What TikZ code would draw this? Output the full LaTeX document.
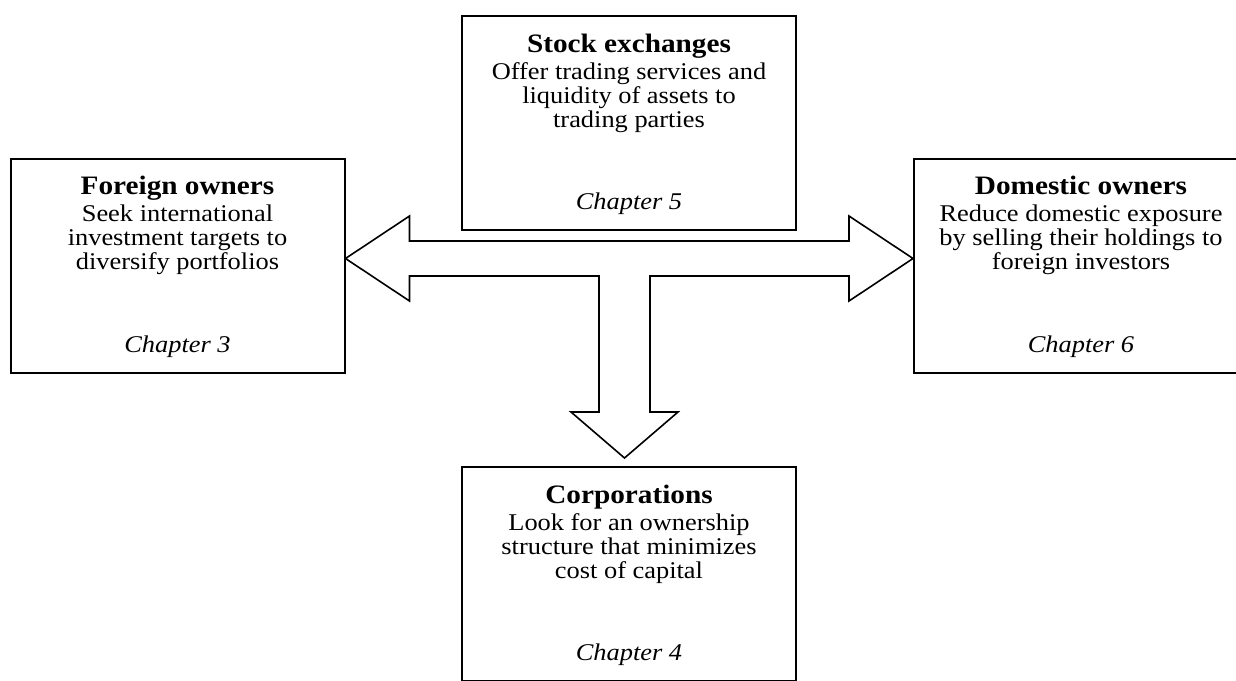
\documentclass[tikz,border=0pt]{standalone}
\usepackage{fontspec}
\setmainfont{Liberation Serif}[FakeStretch=1.1]
\usepackage{xcolor}
\definecolor{cLine}{HTML}{000000}
\usepackage{tikz}
\usetikzlibrary{positioning,calc}
\tikzset{
  node-box/.style={draw=cLine,line width=1pt,minimum width=167pt,
    minimum height=107pt,align=center,inner sep=0pt,
    font=\fontsize{12}{12}\selectfont},
  arrow-block/.style={draw=cLine,line width=0.8pt,fill=white,line join=miter},
}
\newcommand{\boxhead}[1]{{\fontsize{13.3}{12}\selectfont\bfseries\rule{0pt}{10.6pt}#1}\\[1.5pt]}
\newcommand{\chapref}[1]{\\[29.4pt]\textit{Chapter #1}}

\begin{document}
\begin{tikzpicture}[x=0.5pt,y=-0.5pt]
  \clip (0,0) rectangle (1236,680);
  \fill[white] (0,0) rectangle (1236,680);
  \node[node-box] (stock)    at (629,123)    {\boxhead{Stock exchanges}Offer trading services and\\liquidity of assets to\\trading parties\chapref{5}};
  \node[node-box] (foreign)  at (177.5,265.5) {\boxhead{Foreign owners}Seek international\\investment targets to\\diversify portfolios\chapref{3}};
  \node[node-box] (domestic) at (1081,265.5) {\boxhead{Domestic owners}Reduce domestic exposure\\by selling their holdings to\\foreign investors\chapref{6}};
  \node[node-box] (corp)     at (629,574)    {\boxhead{Corporations}Look for an ownership\\structure that minimizes\\cost of capital\chapref{4}};
  % block arrow: foreign <-> domestic, branch down to corporations
  \coordinate (hub) at (624.5,258.5);
  \coordinate (tipL) at (foreign.east |- hub);
  \coordinate (tipR) at (domestic.west |- hub);
  \coordinate (tipD) at ($(corp.north -| hub)+(0,-8)$);
  \draw[arrow-block] (tipL) -- ++(64,-42.5) -- ++(0,25)
    -- ($(tipR)+(-64,-17.5)$) -- ++(0,-25) -- (tipR) -- ++(-64,42.5) -- ++(0,-25)
    -- ($(hub)+(25.5,17.5)$) -- ($(tipD)+(25.5,-46)$) -- ($(tipD)+(53.5,-46)$)
    -- (tipD) -- ($(tipD)+(-53.5,-46)$) -- ($(tipD)+(-25.5,-46)$)
    -- ($(hub)+(-25.5,17.5)$) -- ($(tipL)+(64,17.5)$) -- ++(0,25) -- cycle;
\end{tikzpicture}
\end{document}
